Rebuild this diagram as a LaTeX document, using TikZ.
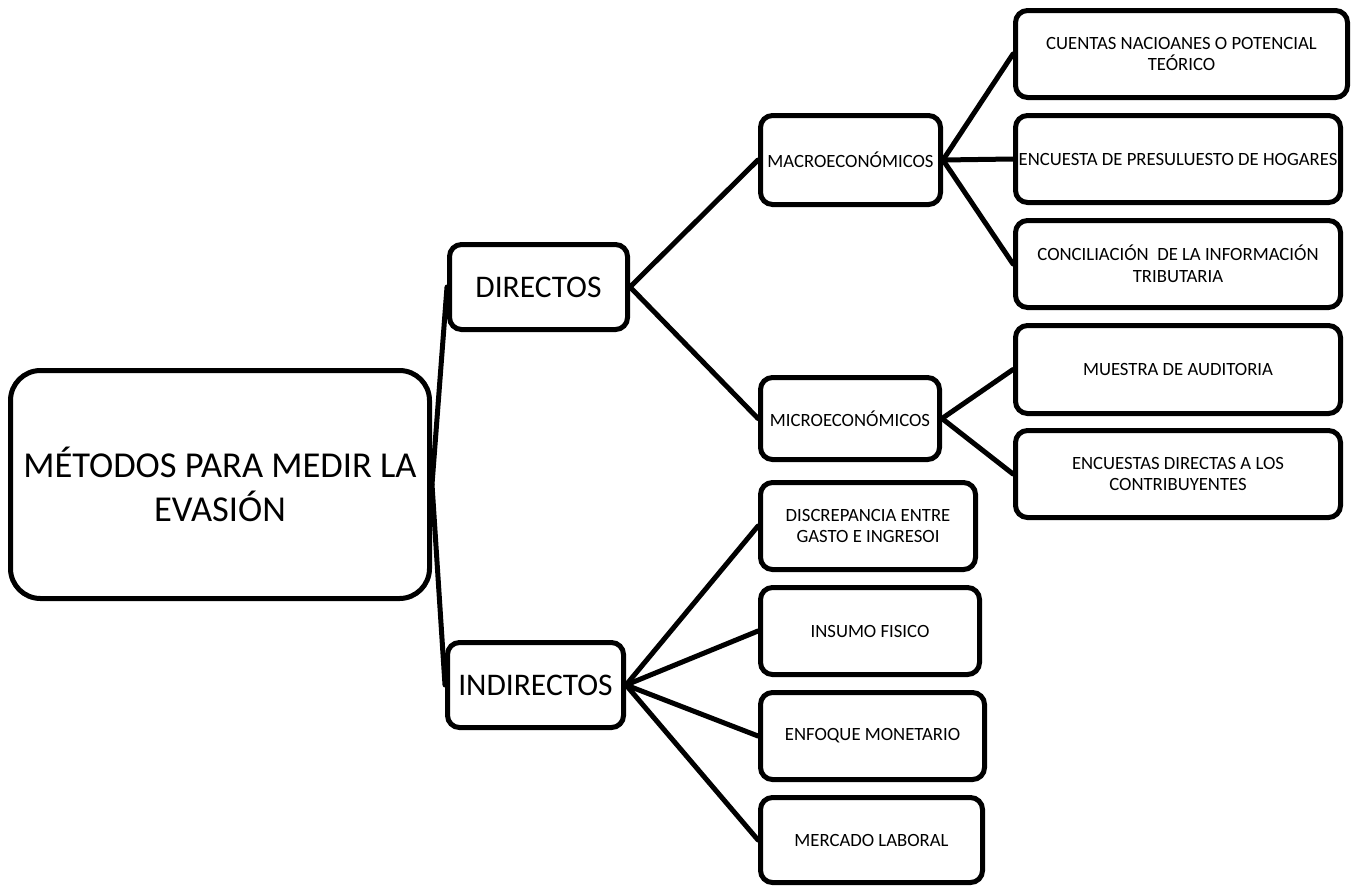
\documentclass[tikz,border=0pt]{standalone}
\usepackage{fontspec}
\setmainfont{Carlito}
\begin{document}
\begin{tikzpicture}[x=1pt,y=-1pt,
  box/.style={draw=black,line width=5pt,rounded corners=12pt,align=center,inner sep=0pt,font=\fontsize{18.7}{21.5}\selectfont},
  midbox/.style={box,font=\fontsize{31.5}{38}\selectfont},
  rootbox/.style={box,rounded corners=30pt,font=\fontsize{36.5}{44}\selectfont},
  link/.style={line width=5pt,line cap=round}]
\useasboundingbox (0,0) rectangle (1356,886);
\node[rootbox,minimum width=419pt,minimum height=228pt] (root) at (220,484.5) {MÉTODOS PARA MEDIR LA\\EVASIÓN};
\node[midbox,minimum width=178pt,minimum height=85pt] (dir) at (538.5,287) {DIRECTOS};
\node[midbox,minimum width=176pt,minimum height=85pt] (ind) at (535.5,685) {INDIRECTOS};
\node[box,minimum width=180pt,minimum height=89pt] (mac) at (850.5,160) {MACROECONÓMICOS};
\node[box,minimum width=179pt,minimum height=82pt] (mic) at (850,418.5) {MICROECONÓMICOS};
\node[box,minimum width=332pt,minimum height=87pt] (cue) at (1181.5,54) {CUENTAS NACIOANES O POTENCIAL\\TEÓRICO};
\node[box,minimum width=325pt,minimum height=87pt] (pre) at (1178,159) {ENCUESTA DE PRESULUESTO DE HOGARES};
\node[box,minimum width=325pt,minimum height=87pt] (con) at (1178,264) {CONCILIACIÓN\ \ DE LA INFORMACIÓN\\TRIBUTARIA};
\node[box,minimum width=325pt,minimum height=88pt] (mue) at (1178,369.5) {MUESTRA DE AUDITORIA};
\node[box,minimum width=325pt,minimum height=87pt] (enc) at (1178,474) {ENCUESTAS DIRECTAS A LOS\\CONTRIBUYENTES};
\node[box,minimum width=215pt,minimum height=87pt] (dis) at (868,526) {DISCREPANCIA ENTRE\\GASTO E INGRESOI};
\node[box,minimum width=219pt,minimum height=87pt] (ins) at (870,631) {INSUMO FISICO};
\node[box,minimum width=224pt,minimum height=87pt] (enf) at (872.5,736) {ENFOQUE MONETARIO};
\node[box,minimum width=222pt,minimum height=85pt] (mer) at (871.5,840) {MERCADO LABORAL};
\draw[link] (root.east) -- (dir.west);
\draw[link] (root.east) -- (ind.west);
\draw[link] (dir.east) -- (mac.west);
\draw[link] (dir.east) -- (mic.west);
\draw[link] (mac.east) -- (cue.west);
\draw[link] (mac.east) -- (pre.west);
\draw[link] (mac.east) -- (con.west);
\draw[link] (mic.east) -- (mue.west);
\draw[link] (mic.east) -- (enc.west);
\draw[link] (ind.east) -- (dis.west);
\draw[link] (ind.east) -- (ins.west);
\draw[link] (ind.east) -- (enf.west);
\draw[link] (ind.east) -- (mer.west);
\end{tikzpicture}
\end{document}
